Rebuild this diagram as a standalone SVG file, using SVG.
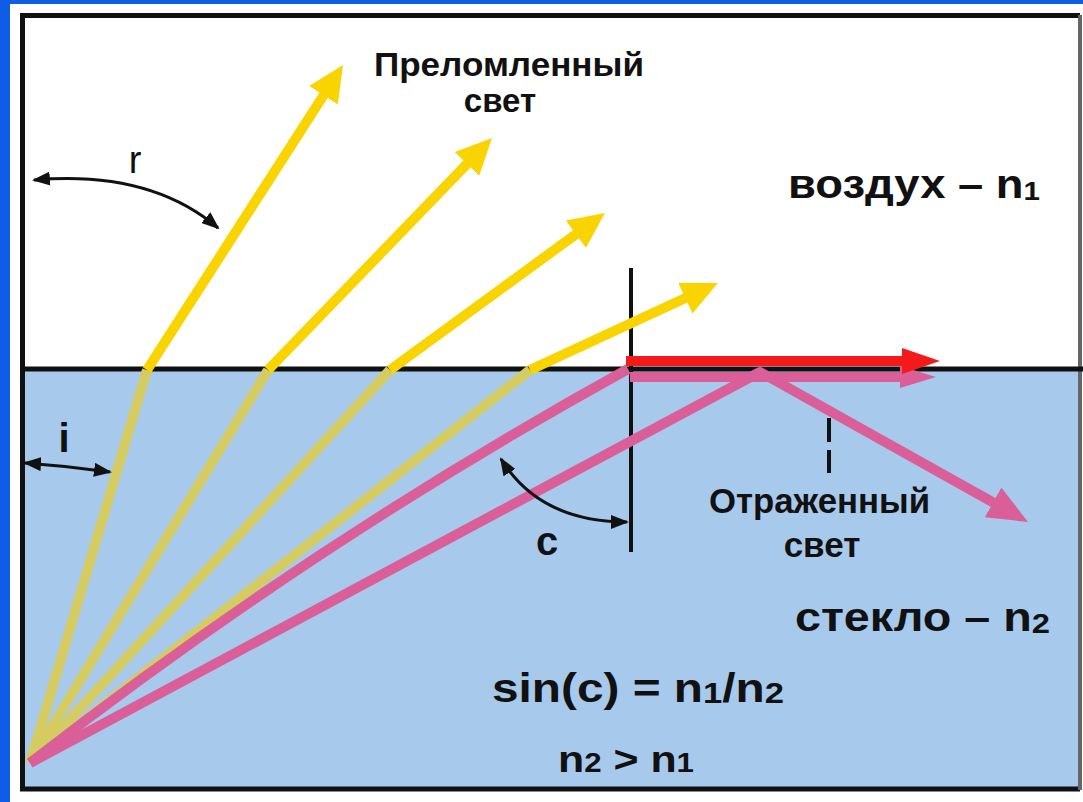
<svg xmlns="http://www.w3.org/2000/svg" width="1083" height="802" viewBox="0 0 1083 802">
<defs>
<style>
.t{font-family:"Liberation Sans",Arial,sans-serif;font-weight:bold;fill:#111}
.yair{stroke:#FAD400;stroke-width:10;fill:none}
.yglass{stroke:#D4CB63;stroke-width:10;fill:none}
.pink{stroke:#DA5F98;stroke-width:10;fill:none}
.ang{stroke:#111;stroke-width:3;fill:none}
</style>
<marker id="hy" viewBox="0 0 36 34" refX="2" refY="17" markerWidth="36" markerHeight="34" markerUnits="userSpaceOnUse" orient="auto"><path d="M0,0 L36,17 L0,34 z" fill="#FAD400"/></marker>
<marker id="hp" viewBox="0 0 40 34" refX="2" refY="17" markerWidth="40" markerHeight="34" markerUnits="userSpaceOnUse" orient="auto"><path d="M0,0 L40,17 L0,34 z" fill="#DA5F98"/></marker>
<marker id="hps" viewBox="0 0 36 22" refX="2" refY="11" markerWidth="36" markerHeight="22" markerUnits="userSpaceOnUse" orient="auto"><path d="M0,0 L36,11 L0,22 z" fill="#DA5F98"/></marker>
<marker id="hr" viewBox="0 0 38 26" refX="2" refY="13" markerWidth="38" markerHeight="26" markerUnits="userSpaceOnUse" orient="auto"><path d="M0,0 L38,13 L0,26 z" fill="#F51A1A"/></marker>
<marker id="hb" viewBox="0 0 18 14" refX="16" refY="7" markerWidth="18" markerHeight="14" markerUnits="userSpaceOnUse" orient="auto-start-reverse"><path d="M0,0 L18,7 L0,14 z" fill="#111"/></marker>
</defs>
<rect width="1083" height="802" fill="#fff"/>
<rect x="0" y="0" width="1083" height="4" fill="#0F5DE6"/>
<rect x="0" y="0" width="10" height="802" fill="#0F5DE6"/>
<g id="frame">
<rect x="22" y="369" width="1058" height="420" fill="#A7C9EC"/>
<path d="M1080,15.5 H22.5 V789 H1080" fill="none" stroke="#111" stroke-width="5"/>
<line x1="1080" y1="15" x2="1080" y2="790" stroke="#666" stroke-width="4"/>
<line id="interface" x1="22" y1="369" x2="1083" y2="369" stroke="#111" stroke-width="5"/>
<line id="normal" x1="631" y1="268" x2="631" y2="552" stroke="#111" stroke-width="4"/>
<line id="normal-dashed" x1="829" y1="418" x2="829" y2="473" stroke="#111" stroke-width="4" stroke-dasharray="24 8"/>
</g>
<g id="connectors">
<path class="yglass" d="M30,763 L147,370"/>
<path class="yglass" d="M30,763 L268,370"/>
<path class="yglass" d="M30,763 L390,370"/>
<path class="yglass" d="M30,763 L530,370"/>
<path class="yair" d="M147,370 L324.6,93.6" marker-end="url(#hy)"/>
<path class="yair" d="M268,370 L468.4,162.5" marker-end="url(#hy)"/>
<path class="yair" d="M390,370 L577.5,233.1" marker-end="url(#hy)"/>
<path class="yair" d="M530,370 L687.1,297.3" marker-end="url(#hy)"/>
<path class="pink" d="M30,763 Q314,542 628,369"/>
<path class="pink" d="M30,763 L760,372 L994.8,503.4" stroke-linejoin="round" marker-end="url(#hp)"/>
<path class="pink" stroke-width="9" d="M630,377 L902,377" marker-end="url(#hps)"/>
<path d="M626,361 L904,361" stroke="#F51A1A" stroke-width="10" fill="none" marker-end="url(#hr)"/>
<path class="ang" d="M34,180 Q150,170 218,228" marker-start="url(#hb)" marker-end="url(#hb)"/>
<path class="ang" d="M25,463 Q68,466 110,472" marker-start="url(#hb)" marker-end="url(#hb)"/>
<path class="ang" d="M501,459 Q540,522 627,522" marker-start="url(#hb)" marker-end="url(#hb)"/>
</g>
<g id="labels">
<text class="t" x="374" y="76" font-size="33" textLength="270" lengthAdjust="spacingAndGlyphs">Преломленный</text>
<text class="t" x="500" y="112" font-size="33" text-anchor="middle">свет</text>
<text class="t" x="788" y="198" font-size="40" textLength="252" lengthAdjust="spacingAndGlyphs">воздух – n<tspan font-size="26" dy="2">1</tspan></text>
<text class="t" x="709" y="513" font-size="35" textLength="221" lengthAdjust="spacingAndGlyphs">Отраженный</text>
<text class="t" x="822" y="557" font-size="35" text-anchor="middle">свет</text>
<text class="t" x="795" y="631" font-size="40" textLength="255" lengthAdjust="spacingAndGlyphs">стекло – n<tspan font-size="28" dy="2">2</tspan></text>
<text class="t" x="492" y="702" font-size="40" textLength="292" lengthAdjust="spacingAndGlyphs">sin(c) = n<tspan font-size="29" dy="1">1</tspan><tspan font-size="40" dy="-1">/n</tspan><tspan font-size="29" dy="1">2</tspan></text>
<text class="t" x="558" y="772" font-size="37" textLength="136" lengthAdjust="spacingAndGlyphs">n<tspan font-size="27">2</tspan><tspan font-size="37"> &gt; n</tspan><tspan font-size="27">1</tspan></text>
<text class="t" x="547" y="555" font-size="40" text-anchor="middle">c</text>
<text class="t" x="64" y="452" font-size="40" text-anchor="middle">i</text>
<text class="t" x="135" y="173" font-size="38" text-anchor="middle" style="font-weight:normal">r</text>
</g>
</svg>
